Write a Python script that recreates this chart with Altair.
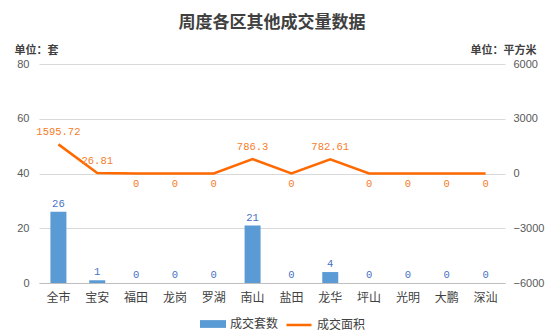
import altair as alt
import pandas as pd

districts = ["全市", "宝安", "福田", "龙岗", "罗湖", "南山", "盐田", "龙华", "坪山", "光明", "大鹏", "深汕"]
units = [26, 1, 0, 0, 0, 21, 0, 4, 0, 0, 0, 0]
areas = [1595.72, 26.81, 0, 0, 0, 786.3, 0, 782.61, 0, 0, 0, 0]

df = pd.DataFrame({
    "区": districts,
    "套数": units,
    "面积": areas,
    "套数系列": ["成交套数"] * len(districts),
    "面积系列": ["成交面积"] * len(districts),
})
df["面积标签"] = [f"{v:g}" for v in areas]

BLUE = "#5B9BD5"
ORANGE = "#FF6A00"
FONT = "Noto Sans CJK SC"
NUMFONT = "Liberation Mono"
AXFONT = "Liberation Sans"

x = alt.X("区:N", sort=districts, title=None,
          scale=alt.Scale(paddingInner=0, paddingOuter=0),
          axis=alt.Axis(labelAngle=0, labelFont=FONT, labelFontSize=12, labelColor="#404040",
                        domainColor="#BFBFBF", ticks=False, labelPadding=9))

y_left = alt.Y("套数:Q", scale=alt.Scale(domain=[0, 80]),
               axis=alt.Axis(values=[0, 20, 40, 60, 80], grid=True, gridColor="#D9D9D9",
                             domain=False, ticks=False, labelPadding=10, format="d",
                             labelFont=AXFONT, labelFontSize=11, labelColor="#595959",
                             title="单位：套", titleAngle=0, titleX=-25, titleY=-14,
                             titleAlign="left", titleBaseline="middle",
                             titleFont=FONT, titleFontSize=11, titleFontWeight="bold",
                             titleColor="#404040"))

base = alt.Chart(df)

bars = base.mark_bar(size=16).encode(
    x=x,
    y=y_left,
    fill=alt.Fill("套数系列:N", scale=alt.Scale(domain=["成交套数"], range=[BLUE]),
                  legend=alt.Legend(title=None, orient="none", legendX=161, legendY=247,
                                    symbolType="M-1,-0.3H1V0.3H-1Z", symbolSize=676,
                                    labelFont=FONT, labelFontSize=12, labelColor="#404040",
                                    symbolStrokeWidth=0)),
)

bar_labels = base.mark_text(dy=-8, font=NUMFONT, fontSize=10.5, color="#4472C4").encode(
    x=x,
    y=y_left,
    text="套数:Q",
)

left = alt.layer(bars, bar_labels)

y_right = alt.Y("面积:Q", scale=alt.Scale(domain=[-6000, 6000]),
                axis=alt.Axis(orient="right", values=[-6000, -3000, 0, 3000, 6000], grid=False,
                              domain=False, ticks=False, labelPadding=8, format="d",
                              labelFont=AXFONT, labelFontSize=11, labelColor="#595959",
                              title="单位：平方米", titleAngle=0, titleX=-35, titleY=-14,
                              titleAlign="left", titleBaseline="middle",
                              titleFont=FONT, titleFontSize=11, titleFontWeight="bold",
                              titleColor="#404040"))

line = base.mark_line(strokeWidth=2.5).encode(
    x=x,
    y=y_right,
    stroke=alt.Stroke("面积系列:N", scale=alt.Scale(domain=["成交面积"], range=[ORANGE]),
                      legend=alt.Legend(title=None, orient="none", legendX=246, legendY=247,
                                        symbolType="stroke", symbolSize=625, symbolStrokeWidth=2.5,
                                        labelFont=FONT, labelFontSize=12, labelColor="#404040")),
)

pos_labels = base.transform_filter("datum['面积'] > 0").mark_text(
    dy=-12, font=NUMFONT, fontSize=10.5, color="#F57C2A").encode(
    x=x, y=y_right, text="面积标签:N")

zero_labels = base.transform_filter("datum['面积'] == 0").mark_text(
    dy=10, font=NUMFONT, fontSize=10.5, color="#F57C2A").encode(
    x=x, y=y_right, text="面积标签:N")

right = alt.layer(line, pos_labels, zero_labels)

chart = alt.layer(left, right).resolve_scale(y="independent").properties(
    width=466, height=219,
    autosize=alt.AutoSizeParams(type="none"),
    padding={"left": 39, "top": 64, "right": 44, "bottom": 50},
    background="white",
    title=alt.TitleParams("周度各区其他成交量数据", font=FONT, fontSize=17, fontWeight="bold",
                          color="#404040", anchor="middle", offset=12),
).configure_view(stroke=None)

chart.save("out.html", embed_options={"renderer": "svg", "actions": False})
